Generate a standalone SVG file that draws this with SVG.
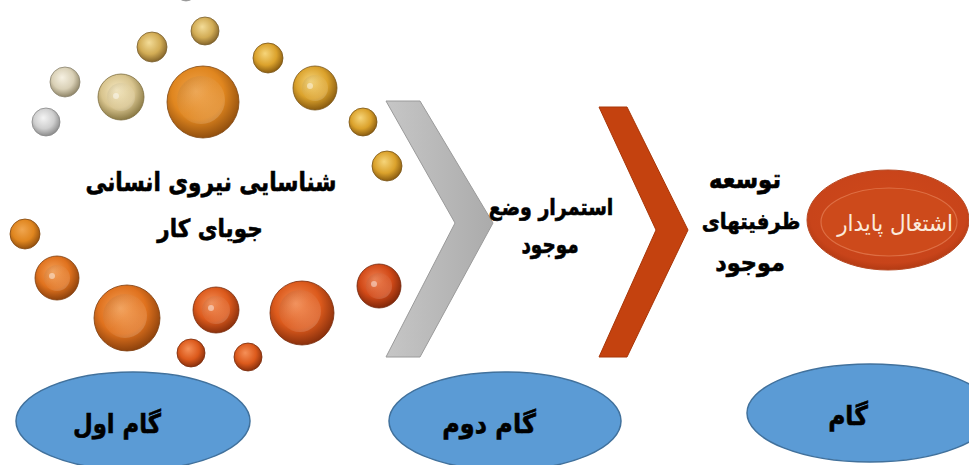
<svg xmlns="http://www.w3.org/2000/svg" width="969" height="465" viewBox="0 0 969 465">
<style>
.lbl{font-family:"DejaVu Sans","Noto Sans",sans-serif;font-weight:bold;fill:#000;stroke:#000;stroke-width:0.5;text-anchor:middle;direction:rtl}
.step{fill:#5b9bd5;stroke:#41719c;stroke-width:1.5}
.sp{stroke-width:0.8}
.dimple{fill:url(#gDimple)}
.spot{fill:#fff;opacity:0.45}
</style>
<defs>
<radialGradient id="gSilver" cx="0.45" cy="0.4" r="0.6" fx="0.4" fy="0.35"><stop offset="0" stop-color="#f4f4f4"/><stop offset="0.6" stop-color="#cfcfcf"/><stop offset="1" stop-color="#8c8c8c"/></radialGradient>
<radialGradient id="gPale" cx="0.45" cy="0.4" r="0.6" fx="0.4" fy="0.35"><stop offset="0" stop-color="#f6f1e2"/><stop offset="0.6" stop-color="#d9d0b6"/><stop offset="1" stop-color="#8f8567"/></radialGradient>
<radialGradient id="gChamp" cx="0.45" cy="0.4" r="0.6" fx="0.4" fy="0.35"><stop offset="0" stop-color="#f5e8c0"/><stop offset="0.6" stop-color="#d8c48e"/><stop offset="1" stop-color="#8b7a45"/></radialGradient>
<radialGradient id="gLGold" cx="0.45" cy="0.4" r="0.6" fx="0.4" fy="0.35"><stop offset="0" stop-color="#f3dc98"/><stop offset="0.6" stop-color="#d2ac55"/><stop offset="1" stop-color="#85652a"/></radialGradient>
<radialGradient id="gGold" cx="0.45" cy="0.4" r="0.6" fx="0.4" fy="0.35"><stop offset="0" stop-color="#f6d57a"/><stop offset="0.6" stop-color="#dba22c"/><stop offset="1" stop-color="#8a5c10"/></radialGradient>
<radialGradient id="gOrange" cx="0.45" cy="0.4" r="0.6" fx="0.4" fy="0.35"><stop offset="0" stop-color="#f0a650"/><stop offset="0.6" stop-color="#e0861f"/><stop offset="1" stop-color="#93500e"/></radialGradient>
<radialGradient id="gDOrange" cx="0.45" cy="0.4" r="0.6" fx="0.4" fy="0.35"><stop offset="0" stop-color="#f5a25a"/><stop offset="0.6" stop-color="#e0721e"/><stop offset="1" stop-color="#8e420c"/></radialGradient>
<radialGradient id="gRedOr" cx="0.45" cy="0.4" r="0.6" fx="0.4" fy="0.35"><stop offset="0" stop-color="#f59058"/><stop offset="0.6" stop-color="#dc5a1c"/><stop offset="1" stop-color="#8a300c"/></radialGradient>
<radialGradient id="gRed" cx="0.45" cy="0.4" r="0.6" fx="0.4" fy="0.35"><stop offset="0" stop-color="#ef8050"/><stop offset="0.6" stop-color="#d24a18"/><stop offset="1" stop-color="#82280a"/></radialGradient>
<linearGradient id="gDimple" x1="0" y1="0" x2="1" y2="1"><stop offset="0" stop-color="#000" stop-opacity="0.10"/><stop offset="0.5" stop-color="#fff" stop-opacity="0.05"/><stop offset="1" stop-color="#fff" stop-opacity="0.22"/></linearGradient>
<linearGradient id="gGray" x1="0" y1="0" x2="1" y2="0"><stop offset="0" stop-color="#c6c6c6"/><stop offset="1" stop-color="#ababab"/></linearGradient>
<radialGradient id="gPill" cx="0.5" cy="0.45" r="0.6"><stop offset="0" stop-color="#d0491a"/><stop offset="0.8" stop-color="#c8441a"/><stop offset="1" stop-color="#a4340f"/></radialGradient>
</defs>

<g id="spheres">
<circle cx="186" cy="-9" r="10" fill="url(#gSilver)" stroke="#999" class="sp"/>
<circle cx="205" cy="31" r="14" fill="url(#gLGold)" stroke="#7a6030" class="sp"/>
<circle cx="152" cy="47" r="15" fill="url(#gLGold)" stroke="#7a6030" class="sp"/>
<circle cx="268" cy="58" r="15" fill="url(#gGold)" stroke="#7a5518" class="sp"/>
<circle cx="65" cy="82" r="15" fill="url(#gPale)" stroke="#8a8470" class="sp"/>
<circle cx="121" cy="97" r="23" fill="url(#gChamp)" stroke="#7d6d3e" class="sp"/>
<circle class="dimple" cx="121" cy="97" r="14"/><circle class="spot" cx="116" cy="96" r="3"/>
<circle cx="203" cy="102" r="36" fill="url(#gOrange)" stroke="#804610" class="sp"/>
<circle class="dimple" cx="201" cy="100" r="24"/>
<circle cx="315" cy="88" r="22" fill="url(#gGold)" stroke="#7a5518" class="sp"/>
<circle class="dimple" cx="315" cy="88" r="13"/><circle class="spot" cx="310" cy="86" r="3"/>
<circle cx="46" cy="122" r="14" fill="url(#gSilver)" stroke="#888" class="sp"/>
<circle cx="363" cy="122" r="14" fill="url(#gGold)" stroke="#7a5518" class="sp"/>
<circle cx="387" cy="166" r="15" fill="url(#gGold)" stroke="#7a5518" class="sp"/>
<circle cx="25" cy="234" r="15" fill="url(#gOrange)" stroke="#804610" class="sp"/>
<circle cx="57" cy="278" r="22" fill="url(#gDOrange)" stroke="#7e3c0c" class="sp"/>
<circle class="dimple" cx="57" cy="278" r="13"/><circle class="spot" cx="52" cy="276" r="3"/>
<circle cx="127" cy="318" r="33" fill="url(#gDOrange)" stroke="#7e3c0c" class="sp"/>
<circle class="dimple" cx="125" cy="316" r="22"/>
<circle cx="216" cy="310" r="23" fill="url(#gRedOr)" stroke="#7a2c0c" class="sp"/>
<circle class="dimple" cx="216" cy="310" r="14"/><circle class="spot" cx="211" cy="308" r="3"/>
<circle cx="302" cy="313" r="32" fill="url(#gRedOr)" stroke="#7a2c0c" class="sp"/>
<circle class="dimple" cx="300" cy="311" r="21"/>
<circle cx="379" cy="286" r="22" fill="url(#gRed)" stroke="#72240a" class="sp"/>
<circle class="dimple" cx="379" cy="286" r="13"/><circle class="spot" cx="374" cy="284" r="3"/>
<circle cx="191" cy="353" r="14" fill="url(#gRedOr)" stroke="#7a2c0c" class="sp"/>
<circle cx="248" cy="357" r="14" fill="url(#gRedOr)" stroke="#7a2c0c" class="sp"/>
</g>

<g id="connectors">
<polygon id="chevron-gray" points="386,101 420,101 493,223 420,357 386,357 455,223" fill="url(#gGray)" stroke="#9a9a9a" stroke-width="1"/>
<polygon id="chevron-red" points="599,107 627,107 688,230 627,357 599,357 656,230" fill="#c4420f" stroke="#a83608" stroke-width="1"/>
</g>

<g id="node-identify">
<text class="lbl" font-size="22" transform="translate(211,191) scale(0.98,1.2)">شناسایی نیروی انسانی</text>
<text class="lbl" font-size="22" transform="translate(210,237) scale(0.98,1.13)">جویای کار</text>
</g>

<g id="node-continue">
<text class="lbl" font-size="19" transform="translate(551,215) scale(1,1.2)">استمرار وضع</text>
<text class="lbl" font-size="19" transform="translate(550,253) scale(0.97,1.3)">موجود</text>
</g>

<g id="node-develop">
<text class="lbl" font-size="19" transform="translate(745,188) scale(1.2,1.35)">توسعه</text>
<text class="lbl" font-size="19" transform="translate(751,229) scale(1.04,1.15)">ظرفیتهای</text>
<text class="lbl" font-size="19" transform="translate(750,271) scale(1.18,1.25)">موجود</text>
</g>

<g id="node-sustainable">
<ellipse cx="888" cy="220" rx="81" ry="50" fill="url(#gPill)" stroke="#b84a24" stroke-width="1"/>
<ellipse cx="889" cy="222" rx="68" ry="34" fill="#cd4a1b" stroke="#ec9068" stroke-width="1.2" stroke-opacity="0.55"/>
<text font-family="DejaVu Sans, Noto Sans, sans-serif" font-size="19" fill="#fbeadb" text-anchor="middle" direction="rtl" transform="translate(895,231) scale(1.13,1.2)">اشتغال پایدار</text>
</g>

<g id="node-step1">
<ellipse class="step" cx="133" cy="421" rx="117" ry="49"/>
<text class="lbl" font-size="24" transform="translate(117,433) scale(0.95,1.12)">گام اول</text>
</g>

<g id="node-step2">
<ellipse class="step" cx="505" cy="421" rx="116" ry="49"/>
<text class="lbl" font-size="24" transform="translate(489,433) scale(1,1.12)">گام دوم</text>
</g>

<g id="node-step3">
<ellipse class="step" cx="870" cy="413" rx="123" ry="49"/>
<text class="lbl" font-size="24" transform="translate(848,425) scale(0.98,1.12)">گام</text>
</g>
</svg>
